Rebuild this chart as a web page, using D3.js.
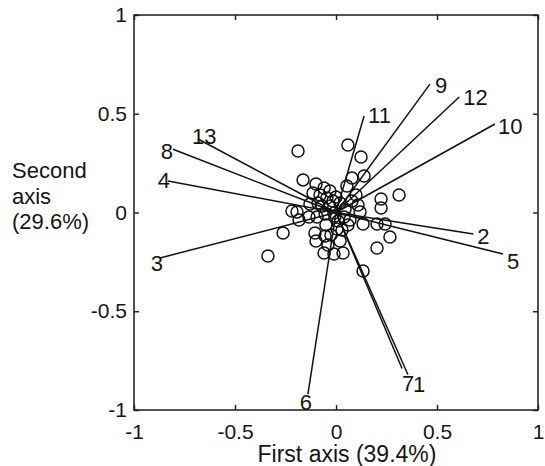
<!DOCTYPE html>
<html>
<head>
<meta charset="utf-8">
<script src="https://cdn.jsdelivr.net/npm/d3@7"></script>
<style>
    body { margin: 0; background: #fff; }
    svg text { font-family: "Liberation Sans", Arial, Helvetica, sans-serif; fill: #151515; }
</style>
</head>
<body>
<svg id="biplot" width="545" height="466"></svg>
<script>
// variable loadings (arrows from the origin)
const varNames = ['1', '2', '3', '4', '5', '6', '7', '8', '9', '10', '11', '12', '13'];
const loadX = [0.356, 0.68, -0.871, -0.832, 0.827, -0.139, 0.327, -0.807, 0.465, 0.787, 0.139, 0.61, -0.683];
const loadY = [-0.82, -0.109, -0.23, 0.16, -0.21, -0.92, -0.79, 0.32, 0.65, 0.448, 0.489, 0.585, 0.372];

// object scores (circles)
const scoreX = [-0.188, 0.059, 0.124, -0.163, 0.079, 0.139, -0.099, -0.059, -0.030, -0.114,
    -0.079, -0.045, -0.015, 0.020, 0.099, 0.109, 0.223, 0.223, 0.312, -0.218,
    -0.193, -0.183, -0.134, -0.094, -0.054, -0.010, 0.040, 0.069, 0.119, 0.134,
    0.203, 0.243, 0.267, -0.262, -0.104, -0.099, -0.054, -0.025, 0.005, 0.030,
    0.059, 0.203, -0.337, -0.059, -0.010, 0.035, 0.134, 0.010, -0.030, -0.069,
    0.045, 0.000, -0.089, 0.020, -0.040, -0.005, 0.079, 0.054, -0.129, -0.050];
const scoreY = [0.311, 0.342, 0.281, 0.165, 0.175, 0.185, 0.144, 0.124, 0.109, 0.099,
    0.089, 0.073, 0.058, 0.048, 0.089, 0.038, 0.068, 0.023, 0.089, 0.008,
    0.003, -0.038, -0.023, -0.023, -0.008, -0.003, -0.023, -0.038, 0.003, -0.058,
    -0.058, -0.058, -0.124, -0.104, -0.104, -0.144, -0.119, -0.114, -0.084, -0.089,
    -0.063, -0.180, -0.220, -0.205, -0.210, -0.205, -0.296, -0.043, 0.033, 0.033,
    0.018, 0.078, 0.048, -0.144, -0.165, -0.018, 0.058, 0.134, 0.043, -0.063];

const xTicks = [-1, -0.5, 0, 0.5, 1];
const yTicks = [-1, -0.5, 0, 0.5, 1];
const xTitle = 'First axis (39.4%)';
const yTitle = ['Second', 'axis', '(29.6%)'];

class Biplot {

    constructor() {
        this.svg = d3.select('#biplot');
        this.left = 134;
        this.right = 538;
        this.top = 15;
        this.bottom = 410;
        // hand placement of the arrow labels, like in the printed figure
        this.labelNudge = {
            '1': ['start', 5, 10], '2': ['start', 4, 2], '3': ['end', 3, 6],
            '4': ['end', 2, 0], '5': ['start', 4, 8], '6': ['middle', -2, 8],
            '7': ['start', 0, 15], '8': ['end', 0, 2], '9': ['start', 5, 1],
            '10': ['start', 3, 2], '11': ['start', 4, 0], '12': ['start', 4, 1],
            '13': ['start', -6, -3]
        };
    }

    create() {
        let x = d3.scaleLinear().domain([-1, 1]).range([this.left, this.right]);
        let y = d3.scaleLinear().domain([-1, 1]).range([this.bottom, this.top]);
        let fmt = d => String(d);

        //axes with ticks pointing inside the box
        this.svg.append('g')
            .attr('transform', `translate(0, ${this.bottom})`)
            .call(d3.axisBottom(x).tickValues(xTicks).tickFormat(fmt).tickSizeInner(-5).tickSizeOuter(0).tickPadding(14))
            .call(g => g.select('.domain').remove())
            .selectAll('text')
            .style('font-size', '21px')
            .attr('fill', '#151515');
        this.svg.append('g')
            .attr('transform', `translate(${this.left}, 0)`)
            .call(d3.axisLeft(y).tickValues(yTicks).tickFormat(fmt).tickSizeInner(-5).tickSizeOuter(0).tickPadding(7))
            .call(g => g.select('.domain').remove())
            .selectAll('text')
            .style('font-size', '21px')
            .attr('fill', '#151515');
        this.svg.append('g')
            .attr('transform', `translate(0, ${this.top})`)
            .call(d3.axisTop(x).tickValues(xTicks).tickFormat('').tickSizeInner(-5).tickSizeOuter(0))
            .call(g => g.select('.domain').remove());
        this.svg.append('g')
            .attr('transform', `translate(${this.right}, 0)`)
            .call(d3.axisRight(y).tickValues(yTicks).tickFormat('').tickSizeInner(-5).tickSizeOuter(0))
            .call(g => g.select('.domain').remove());
        this.svg.selectAll('.tick line').attr('stroke', '#1a1a1a').attr('stroke-width', 1.4);

        //box
        this.svg.append('rect')
            .attr('x', this.left)
            .attr('y', this.top)
            .attr('width', this.right - this.left)
            .attr('height', this.bottom - this.top)
            .style('fill', 'none')
            .style('stroke', '#1a1a1a')
            .style('stroke-width', 1.5);

        //circles for the scores
        let pts = d3.range(scoreX.length);
        this.svg.append('g').selectAll('circle').data(pts).enter()
            .append('circle')
            .attr('cx', i => x(scoreX[i]))
            .attr('cy', i => y(scoreY[i]))
            .attr('r', 6)
            .style('fill', 'none')
            .style('stroke', '#111')
            .style('stroke-width', 1.5);

        //loading lines from origin
        let vars = d3.range(varNames.length);
        this.svg.append('g').selectAll('line').data(vars).enter()
            .append('line')
            .attr('x1', x(0))
            .attr('y1', y(0))
            .attr('x2', i => x(loadX[i]))
            .attr('y2', i => y(loadY[i]))
            .style('stroke', '#111')
            .style('stroke-width', 1.5);

        let nudge = this.labelNudge;
        this.svg.append('g').selectAll('text').data(vars).enter()
            .append('text')
            .attr('x', i => x(loadX[i]) + nudge[varNames[i]][1])
            .attr('y', i => y(loadY[i]) + nudge[varNames[i]][2])
            .attr('text-anchor', i => nudge[varNames[i]][0])
            .attr('dominant-baseline', 'central')
            .attr('font-size', '22px')
            .text(i => varNames[i]);

        //axis titles
        this.svg.append('text')
            .attr('x', 347)
            .attr('y', 462)
            .attr('text-anchor', 'middle')
            .attr('font-size', '23px')
            .text(xTitle);
        this.svg.append('g').selectAll('text').data(yTitle).enter()
            .append('text')
            .attr('x', 12)
            .attr('y', (d, i) => 178 + i * 25.5)
            .attr('font-size', '22px')
            .text(d => d);
    }
}

let chart = new Biplot();
chart.create();
</script>
</body>
</html>
